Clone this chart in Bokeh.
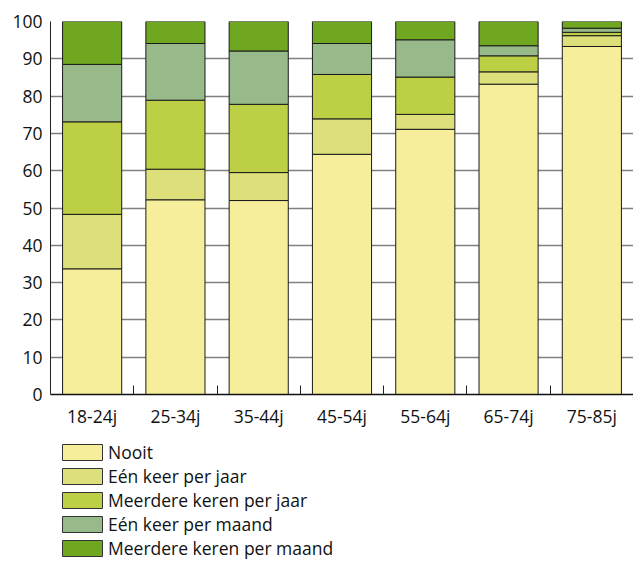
from bokeh.plotting import figure
from bokeh.layouts import column
from bokeh.models import ColumnDataSource, FixedTicker, Legend, LegendItem, Range1d
from bokeh.embed import file_html
from bokeh.resources import INLINE

categories = ["18-24j", "25-34j", "35-44j", "45-54j", "55-64j", "65-74j", "75-85j"]
series_names = ["Nooit", "Eén keer per jaar", "Meerdere keren per jaar",
                "Eén keer per maand", "Meerdere keren per maand"]
nooit = [33.7, 52.2, 52.0, 64.4, 71.1, 83.2, 93.3]
een_jaar = [14.6, 8.2, 7.5, 9.5, 4.0, 3.3, 2.9]
meer_jaar = [24.8, 18.5, 18.3, 11.9, 10.0, 4.3, 0.9]
een_maand = [15.4, 15.2, 14.3, 8.3, 10.0, 2.7, 1.1]
meer_maand = [11.5, 5.9, 7.9, 5.9, 4.9, 6.5, 1.8]
y_ticks = [0, 10, 20, 30, 40, 50, 60, 70, 80, 90, 100]

colors = ["#F6EE9A", "#DDE07A", "#BDCF45", "#98BA8A", "#70A720"]
keys = ["nooit", "een_jaar", "meer_jaar", "een_maand", "meer_maand"]

xpos = [i + 0.5 for i in range(len(categories))]
source = ColumnDataSource(dict(x=xpos, nooit=nooit, een_jaar=een_jaar, meer_jaar=meer_jaar,
                               een_maand=een_maand, meer_maand=meer_maand))

FONT = "Open Sans"
FS = "17.5px"
W = 633

p = figure(width=W, height=430, output_backend="svg", toolbar_location=None,
           x_range=Range1d(0, len(categories)), y_range=Range1d(0, 100),
           min_border_left=50, min_border_right=0, min_border_top=21, min_border_bottom=36)
p.outline_line_color = None
p.background_fill_color = "white"
p.border_fill_color = "white"

renderers = p.vbar_stack(keys, x="x", width=0.71, source=source, color=colors,
                         line_color="#1a1a1a", line_width=1)

# axes
p.yaxis.ticker = FixedTicker(ticks=y_ticks)
p.yaxis.major_tick_in = 0
p.yaxis.major_tick_out = 0
p.yaxis.minor_tick_line_color = None
p.yaxis.axis_line_color = "#222222"
p.yaxis.axis_line_width = 1
p.yaxis.major_label_standoff = 8
p.yaxis.major_label_text_font = FONT
p.yaxis.major_label_text_font_size = FS
p.yaxis.major_label_text_color = "#111111"

p.xaxis.ticker = FixedTicker(ticks=xpos, minor_ticks=list(range(1, len(categories) + 1)))
p.xaxis.major_label_overrides = {x: c for x, c in zip(xpos, categories)}
p.xaxis.major_tick_in = 0
p.xaxis.major_tick_out = 0
p.xaxis.minor_tick_in = 9
p.xaxis.minor_tick_out = 0
p.xaxis.minor_tick_line_color = "#222222"
p.xaxis.axis_line_color = "#111111"
p.xaxis.axis_line_width = 1.5
p.xaxis.major_label_standoff = 9
p.xaxis.major_label_text_font = FONT
p.xaxis.major_label_text_font_size = FS
p.xaxis.major_label_text_color = "#111111"

p.xgrid.grid_line_color = None
p.ygrid.ticker = FixedTicker(ticks=y_ticks)
p.ygrid.grid_line_color = "#808080"
p.ygrid.grid_line_width = 1.5

# legend in its own strip below the chart (swatch renderers carry no drawable data)
lg = figure(width=W, height=135, output_backend="svg", toolbar_location=None,
            x_axis_location=None, y_axis_location=None,
            x_range=Range1d(0, 1), y_range=Range1d(0, 1), min_border=0)
lg.outline_line_color = None
lg.xgrid.grid_line_color = None
lg.ygrid.grid_line_color = None
nan = float("nan")
swatches = [lg.vbar(x=[nan], top=[nan], width=0.5, fill_color=c, line_color="#333333", line_width=1)
            for c in colors]
items = [LegendItem(label=n, renderers=[r]) for n, r in zip(series_names, swatches)]
legend = Legend(items=items, location=(7, 5), orientation="vertical",
                glyph_width=50, glyph_height=20, label_height=16, spacing=0,
                label_text_font=FONT, label_text_font_size=FS, label_text_color="#111111",
                label_standoff=1, padding=0, margin=0,
                border_line_color=None, background_fill_alpha=0)
lg.add_layout(legend, "center")

layout = column(p, lg, spacing=0)
open("out.html", "w").write(file_html(layout, INLINE))
